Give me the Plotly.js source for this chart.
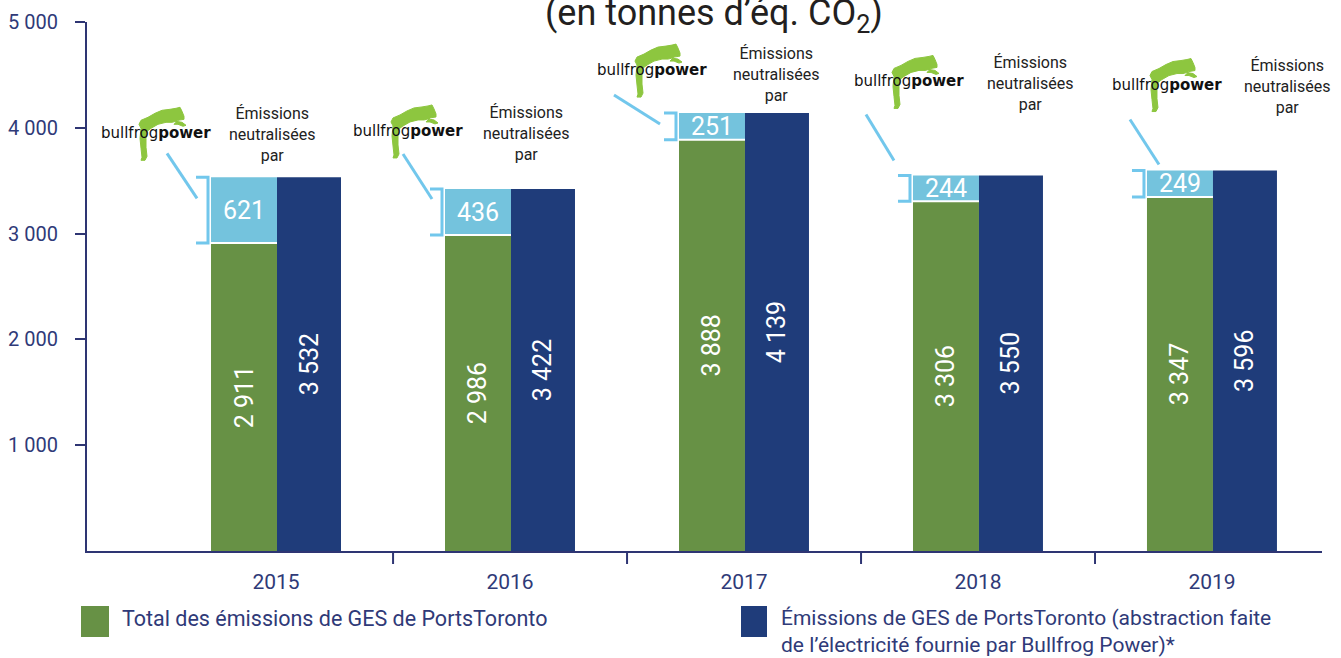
<!DOCTYPE html>
<html><head><meta charset="utf-8">
<script src="https://cdn.plot.ly/plotly-3.0.1.min.js"></script>
<style>html,body{margin:0;padding:0;background:#fff}#chart{width:1341px;height:658px}</style>
</head><body><div id="chart"></div>
<script>
// ---- data ----
const years = [2015, 2016, 2017, 2018, 2019];
const totalGES = [2911, 2986, 3888, 3306, 3347];      // Total des émissions de GES
const neutralized = [621, 436, 251, 244, 249];        // Émissions neutralisées par Bullfrog Power
const grossGES = [3532, 3422, 4139, 3550, 3596];      // abstraction faite de l'électricité Bullfrog
const yTickVals = [1000, 2000, 3000, 4000, 5000];
const yTickText = ['1 000', '2 000', '3 000', '4 000', '5 000'];
const titleText = '(en tonnes d’éq. CO<sub>2</sub>)';
const legendGreen = 'Total des émissions de GES de PortsToronto';
const legendBlue = 'Émissions de GES de PortsToronto (abstraction faite<br>de l’électricité fournie par Bullfrog Power)*';
const calloutText = 'Émissions<br>neutralisées<br>par';
const logoText = 'bullfrog<b>power</b>';

// ---- styling / layout constants ----
const W = 1341, H = 658, ML = 87, MR = 19, MT = 22, MB = 107;
const PW = W - ML - MR, PH = H - MT - MB;
const GREEN = '#679145', LIGHT = '#74c3dd', NAVY = '#1f3c7a', LINE = '#72c7ec', AXIS = '#2e3573', TXT = '#2f3a78';
const FONT = 'Roboto, "Noto Sans", sans-serif';
const greenOff = -0.278, greenW = 0.282, blueOff = 0.004, blueW = 0.2735;
// callout offsets in px relative to (bar left, bar top); dy positive = up
const callouts = [
  {line: [-44, 24, -14, -21], text: [61, 43], logo: [-55, 44]},
  {line: [-42, 35, -13, -10], text: [81, 55], logo: [-37, 58]},
  {line: [-65, 18, -19, -11], text: [97, 39], logo: [-27, 43]},
  {line: [-47, 61, -19, 15], text: [117, 92], logo: [-4, 94]},
  {line: [-17, 51, 12, 6], text: [140, 84], logo: [20, 86]}
];
// frog glyph outline, px relative to logo text left / centre (y down)
const frog = [[86,-17],[84,-22],[82,-26],[78,-25],[72,-24],[64,-23],[57,-20],[50,-16],[43,-13],[41,-9],[43,-5],
  [42,5],[43,15],[44,24],[43,27],[47,27],[49,23],[48,14],[48,5],[49,-2],[53,-5],[60,-9],[68,-11],[74,-11],
  [78,-12],[84,-11],[88,-8],[85,-7],[80,-9],[76,-9],[80,-13],[86,-14]];

const fmt = v => String(v).replace(/\B(?=(\d{3})+(?!\d))/g, ' ');
const px2x = p => (p - ML) / PW;
const px2y = p => (H - MB - p) / PH;

const valFont = {family: FONT, size: 25, color: '#ffffff'};
const traces = [
  {type: 'bar', x: years, y: totalGES, offset: greenOff, width: greenW, marker: {color: GREEN},
   text: totalGES.map(fmt), textposition: 'inside', insidetextanchor: 'middle', textangle: -90,
   textfont: valFont, constraintext: 'none', hoverinfo: 'skip', name: legendGreen},
  {type: 'bar', x: years, y: neutralized, base: totalGES, offset: greenOff, width: greenW, marker: {color: LIGHT},
   text: neutralized.map(fmt), textposition: 'inside', insidetextanchor: 'middle', textangle: 0,
   textfont: valFont, constraintext: 'none', hoverinfo: 'skip', name: 'neutralisées'},
  {type: 'bar', x: years, y: grossGES, offset: blueOff, width: blueW, marker: {color: NAVY},
   text: grossGES.map(fmt), textposition: 'inside', insidetextanchor: 'middle', textangle: -90,
   textfont: valFont, constraintext: 'none', hoverinfo: 'skip', name: 'brut'}
];

const shapes = [];
const annotations = [];
years.forEach((yr, i) => {
  const top = totalGES[i] + neutralized[i];
  const xa = yr + greenOff;
  const c = callouts[i];
  // white separator
  shapes.push({type: 'line', xref: 'x', yref: 'y', x0: xa, x1: yr + blueOff, y0: totalGES[i], y1: totalGES[i],
    line: {color: '#ffffff', width: 2}});
  // bracket
  shapes.push({type: 'path', xref: 'x', yref: 'y', xsizemode: 'pixel', xanchor: xa, ysizemode: 'scaled',
    path: `M -15,${totalGES[i]} L -3,${totalGES[i]} L -3,${top} L -15,${top}`,
    line: {color: LINE, width: 3}});
  // connector
  shapes.push({type: 'line', xref: 'x', yref: 'y', xsizemode: 'pixel', ysizemode: 'pixel', xanchor: xa, yanchor: top,
    x0: c.line[0], y0: c.line[1], x1: c.line[2], y1: c.line[3], line: {color: LINE, width: 3}});
  // frog
  const lx = c.logo[0] - 58, ly = c.logo[1];
  const p = frog.map((pt, k) => (k ? 'L ' : 'M ') + (lx + pt[0]) + ',' + (ly - pt[1])).join(' ') + ' Z';
  shapes.push({type: 'path', xref: 'x', yref: 'y', xsizemode: 'pixel', ysizemode: 'pixel', xanchor: xa, yanchor: top,
    path: p, fillcolor: '#8dc63f', line: {color: '#8dc63f', width: 1}});
  // logo text
  annotations.push({xref: 'x', yref: 'y', x: xa, y: top, xshift: c.logo[0], yshift: c.logo[1],
    xanchor: 'center', yanchor: 'middle', showarrow: false, text: logoText,
    font: {family: '"DejaVu Sans", sans-serif', size: 15, color: '#111111'}});
  // "Émissions neutralisées par"
  annotations.push({xref: 'x', yref: 'y', x: xa, y: top, xshift: c.text[0], yshift: c.text[1],
    xanchor: 'center', yanchor: 'middle', showarrow: false, text: calloutText, align: 'center',
    font: {family: FONT, size: 16, color: '#222222'}});
  // category divider ticks
  if (i < years.length - 1) {
    shapes.push({type: 'line', xref: 'x', yref: 'paper', x0: yr + 0.5, x1: yr + 0.5, ysizemode: 'pixel', yanchor: 0,
      y0: 0, y1: -13, line: {color: AXIS, width: 2}});
  }
});

// custom legend
shapes.push({type: 'rect', xref: 'paper', yref: 'paper', x0: px2x(81), x1: px2x(109), y0: px2y(637), y1: px2y(606),
  fillcolor: GREEN, line: {width: 0}});
shapes.push({type: 'rect', xref: 'paper', yref: 'paper', x0: px2x(741), x1: px2x(767), y0: px2y(637), y1: px2y(606),
  fillcolor: NAVY, line: {width: 0}});
annotations.push({xref: 'paper', yref: 'paper', x: px2x(120), y: px2y(618), xanchor: 'left', yanchor: 'middle',
  showarrow: false, text: legendGreen, align: 'left', font: {family: FONT, size: 21.5, color: TXT}});
annotations.push({xref: 'paper', yref: 'paper', x: px2x(779), y: px2y(631), xanchor: 'left', yanchor: 'middle',
  showarrow: false, text: legendBlue, align: 'left', font: {family: FONT, size: 21, color: TXT}});
// title
annotations.push({xref: 'paper', yref: 'paper', x: px2x(714), y: px2y(15), xanchor: 'center', yanchor: 'middle',
  showarrow: false, text: titleText, font: {family: FONT, size: 36, color: '#231f20'}});

const layout = {
  width: W, height: H, margin: {l: ML, r: MR, t: MT, b: MB}, paper_bgcolor: '#fff', plot_bgcolor: '#fff',
  barmode: 'overlay', showlegend: false, hovermode: false,
  xaxis: {range: [2014.192, 2019.470], tickvals: years, ticktext: years.map(String), ticks: '',
    showline: true, linecolor: AXIS, linewidth: 2, showgrid: false, zeroline: false, fixedrange: true,
    tickfont: {family: FONT, size: 21, color: TXT}, ticklabelstandoff: 11},
  yaxis: {range: [0, 5000], tickvals: yTickVals, ticktext: yTickText, ticks: 'outside', ticklen: 10, tickwidth: 2,
    tickcolor: AXIS, showline: true, linecolor: AXIS, linewidth: 2, showgrid: false, zeroline: false, fixedrange: true,
    tickfont: {family: FONT, size: 20, color: TXT}, ticklabelstandoff: 13},
  shapes: shapes, annotations: annotations
};
Plotly.newPlot('chart', traces, layout, {displayModeBar: false, staticPlot: true});
</script></body></html>
